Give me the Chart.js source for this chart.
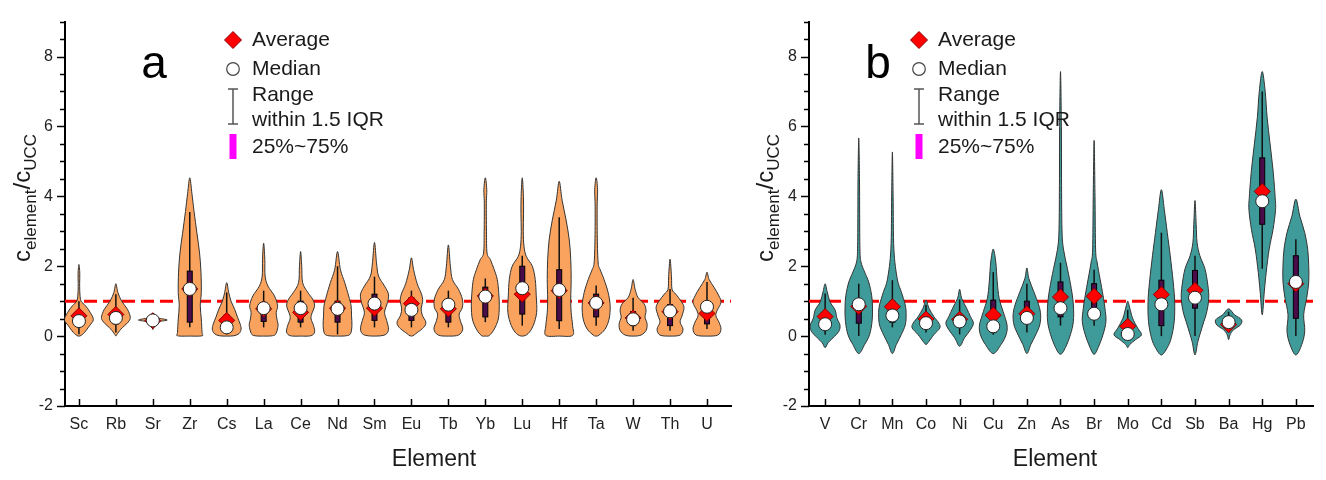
<!DOCTYPE html>
<html><head><meta charset="utf-8">
<script src="https://cdn.jsdelivr.net/npm/chart.js@4.4.1/dist/chart.umd.min.js"></script>
<style>
html,body{margin:0;padding:0;background:#fff;}
#wrap{position:relative;width:1326px;height:480px;overflow:hidden;}
canvas{position:absolute;top:0;}
</style></head><body>
<div id="wrap">
<canvas id="ca" width="740" height="480" style="left:0px"></canvas>
<canvas id="cb" width="586" height="480" style="left:740px"></canvas>
</div>
<script>
// ---------------- DATA ----------------
const yTickValues = [-2, 0, 2, 4, 6, 8];
const referenceLevel = 1;

// Panel a
const elementsA = ['Sc','Rb','Sr','Zr','Cs','La','Ce','Nd','Sm','Eu','Tb','Yb','Lu','Hf','Ta','W','Th','U'];
const meanA   = [0.58,0.62,0.44,1.35,0.45,0.78,0.68,0.80,0.80,0.93,0.78,1.15,1.20,1.30,0.95,0.52,0.70,0.65];
const medianA = [0.43,0.52,0.45,1.35,0.25,0.80,0.80,0.78,0.93,0.75,0.90,1.13,1.37,1.32,0.95,0.48,0.71,0.84];
const q1A     = [0.30,0.35,0.40,0.40,0.15,0.42,0.40,0.40,0.45,0.45,0.40,0.55,0.63,0.44,0.55,0.30,0.30,0.35];
const q3A     = [0.62,0.75,0.50,1.86,0.60,0.95,1.00,1.00,1.20,1.10,1.00,1.40,2.00,1.90,1.20,0.70,0.90,0.95];
const whiskLoA= [0.05,0.10,0.25,0.25,0.05,0.25,0.25,0.05,0.25,0.25,0.25,0.40,0.30,0.20,0.30,0.15,0.15,0.20];
const whiskHiA= [1.00,1.20,0.62,3.55,1.25,1.30,1.30,2.00,1.70,1.30,1.30,1.65,2.30,3.40,1.45,1.10,1.35,1.55];
// density profiles: [value, relative density] from top to bottom
const densityA = [
 [[2.05,0],[1.8,0.06],[1.5,0.05],[1.2,0.07],[1.0,0.15],[0.87,0.45],[0.68,0.78],[0.47,1.0],[0.3,0.74],[0.11,0.4],[0.02,0.15],[0,0]],
 [[1.5,0],[1.25,0.14],[1.0,0.4],[0.77,0.8],[0.54,1.0],[0.4,0.85],[0.2,0.35],[0.05,0.08],[0,0]],
 [[0.65,0],[0.58,0.12],[0.52,0.35],[0.46,1.0],[0.41,0.35],[0.33,0.1],[0.19,0]],
 [[4.53,0],[4.08,0.15],[3.56,0.3],[2.94,0.5],[2.38,0.68],[1.81,0.78],[1.25,0.8],[0.87,0.73],[0.49,0.8],[0.11,0.85],[0.01,0.85],[0,0]],
 [[1.53,0],[1.25,0.14],[1.0,0.3],[0.77,0.55],[0.54,0.75],[0.35,0.93],[0.2,1.0],[0.07,0.85],[0.01,0.5],[0,0]],
 [[2.66,0],[2.2,0.08],[1.72,0.1],[1.43,0.3],[1.15,0.75],[0.87,0.97],[0.68,0.87],[0.49,0.92],[0.3,1.0],[0.07,0.85],[0.01,0.6],[0,0]],
 [[2.42,0],[2.0,0.08],[1.53,0.14],[1.25,0.5],[1.06,0.83],[0.87,0.97],[0.63,0.77],[0.49,0.73],[0.3,0.9],[0.11,0.97],[0.01,0.7],[0,0]],
 [[2.42,0],[1.9,0.2],[1.53,0.5],[1.15,0.77],[0.87,0.94],[0.58,0.97],[0.3,1.0],[0.07,0.9],[0.01,0.6],[0,0]],
 [[2.68,0],[2.1,0.14],[1.72,0.28],[1.43,0.7],[1.2,0.97],[0.96,0.9],[0.68,0.7],[0.44,0.85],[0.2,0.97],[0.04,0.75],[0,0]],
 [[2.24,0],[1.9,0.15],[1.5,0.4],[1.2,0.7],[1.0,0.78],[0.8,0.68],[0.6,0.75],[0.4,1.0],[0.25,0.85],[0.1,0.4],[0,0]],
 [[2.61,0],[2.0,0.14],[1.62,0.28],[1.34,0.7],[1.06,0.97],[0.82,0.97],[0.63,0.75],[0.44,0.83],[0.2,1.0],[0.03,0.7],[0,0]],
 [[4.53,0],[4.2,0.1],[3.8,0.07],[3.0,0.08],[2.38,0.12],[2.19,0.35],[1.9,0.62],[1.62,0.83],[1.25,0.93],[0.87,0.97],[0.49,0.9],[0.2,0.62],[0.02,0.28],[0,0]],
 [[4.53,0],[4.0,0.08],[3.5,0.09],[3.0,0.07],[2.57,0.12],[2.28,0.28],[2.0,0.7],[1.62,0.9],[1.15,0.97],[0.68,1.0],[0.3,0.76],[0.07,0.4],[0,0]],
 [[4.43,0],[3.89,0.2],[3.32,0.48],[2.75,0.7],[2.19,0.8],[1.62,0.83],[1.06,0.8],[0.68,0.83],[0.3,0.93],[0.02,0.93],[0,0]],
 [[4.53,0],[4.2,0.1],[3.7,0.07],[2.8,0.08],[2.1,0.14],[1.9,0.28],[1.62,0.55],[1.25,0.83],[0.87,0.97],[0.49,0.9],[0.2,0.62],[0.03,0.2],[0,0]],
 [[1.62,0],[1.34,0.14],[1.1,0.35],[0.92,0.77],[0.73,0.9],[0.54,0.83],[0.35,0.97],[0.16,0.9],[0.03,0.55],[0,0]],
 [[2.2,0],[1.7,0.1],[1.34,0.14],[1.2,0.4],[1.0,0.77],[0.82,0.97],[0.58,0.83],[0.4,0.7],[0.2,0.9],[0.03,0.7],[0,0]],
 [[1.83,0],[1.62,0.15],[1.39,0.5],[1.15,0.83],[0.96,0.97],[0.73,0.7],[0.58,0.62],[0.4,0.83],[0.2,0.97],[0.03,0.75],[0,0]]
];

// Panel b
const elementsB = ['V','Cr','Mn','Co','Ni','Cu','Zn','As','Br','Mo','Cd','Sb','Ba','Hg','Pb'];
const meanB   = [0.56,0.85,0.84,0.49,0.48,0.60,0.64,1.12,1.14,0.28,1.19,1.31,0.33,4.14,1.50];
const medianB = [0.34,0.91,0.59,0.37,0.42,0.28,0.52,0.80,0.64,0.06,0.91,1.10,0.40,3.86,1.55];
const q1B     = [0.20,0.37,0.40,0.25,0.30,0.10,0.40,0.55,0.50,0.00,0.30,0.80,0.30,3.20,0.51];
const q3B     = [0.60,1.00,1.00,0.50,0.55,1.03,1.00,1.55,1.50,0.30,1.60,1.88,0.50,5.10,2.30];
const whiskLoB= [0.04,0.00,0.25,0.10,0.05,0.04,0.10,0.30,0.30,-0.10,0.00,0.00,0.10,1.93,0.00];
const whiskHiB= [1.22,1.50,1.60,0.90,1.05,1.83,1.50,2.10,1.90,0.75,2.96,2.30,0.70,7.00,2.77];
const densityB = [
 [[1.5,0],[1.27,0.14],[0.98,0.33],[0.75,0.67],[0.51,0.8],[0.32,1.0],[0.14,0.93],[-0.05,0.53],[-0.19,0.2],[-0.33,0]],
 [[5.67,0],[4.5,0.05],[3.5,0.06],[2.5,0.08],[2.12,0.15],[1.83,0.4],[1.55,0.67],[1.17,0.87],[0.8,0.93],[0.42,0.9],[0.04,0.73],[-0.24,0.4],[-0.5,0]],
 [[5.27,0],[4.0,0.05],[2.49,0.1],[1.64,0.33],[1.27,0.6],[0.89,0.87],[0.61,0.93],[0.32,0.87],[0.04,0.6],[-0.24,0.27],[-0.5,0]],
 [[1.03,0],[0.8,0.2],[0.56,0.53],[0.37,0.87],[0.23,0.93],[0.04,0.53],[-0.15,0.2],[-0.24,0]],
 [[1.34,0],[1.08,0.14],[0.8,0.47],[0.56,0.73],[0.37,0.93],[0.18,0.73],[-0.05,0.33],[-0.29,0]],
 [[2.49,0],[2.12,0.17],[1.55,0.27],[1.08,0.4],[0.7,0.67],[0.32,0.93],[0.04,0.87],[-0.24,0.53],[-0.5,0]],
 [[1.95,0],[1.64,0.14],[1.27,0.47],[0.89,0.8],[0.61,0.93],[0.32,0.87],[0.04,0.6],[-0.24,0.27],[-0.5,0]],
 [[7.57,0],[6.0,0.06],[4.5,0.07],[3.06,0.1],[2.49,0.2],[1.93,0.47],[1.36,0.73],[0.89,0.87],[0.42,0.87],[0.04,0.67],[-0.33,0.33],[-0.52,0]],
 [[5.6,0],[4.0,0.06],[2.49,0.1],[2.12,0.2],[1.64,0.4],[1.17,0.6],[0.8,0.73],[0.42,0.8],[0.04,0.6],[-0.33,0.27],[-0.52,0]],
 [[1.0,0],[0.8,0.14],[0.51,0.33],[0.23,0.67],[0.04,0.93],[-0.1,0.53],[-0.24,0.14],[-0.33,0]],
 [[4.19,0],[3.62,0.2],[2.96,0.4],[2.3,0.6],[1.55,0.8],[0.98,0.9],[0.42,0.87],[-0.05,0.67],[-0.33,0.4],[-0.54,0]],
 [[3.88,0],[3.2,0.08],[2.68,0.14],[2.3,0.33],[1.93,0.67],[1.46,0.87],[1.08,0.93],[0.7,0.8],[0.32,0.53],[-0.15,0.2],[-0.54,0]],
 [[0.78,0],[0.61,0.4],[0.47,0.87],[0.32,0.8],[0.18,0.33],[0.04,0.1],[-0.1,0]],
 [[7.57,0],[7.0,0.2],[6.26,0.33],[5.5,0.53],[4.75,0.73],[4.0,0.87],[3.62,0.9],[3.05,0.73],[2.49,0.47],[1.83,0.27],[1.27,0.14],[0.61,0]],
 [[3.92,0],[3.43,0.27],[2.96,0.6],[2.49,0.8],[2.02,0.87],[1.55,0.87],[1.08,0.73],[0.61,0.53],[0.14,0.6],[-0.24,0.4],[-0.54,0]]
];

const legendLabels = ['Average', 'Median', 'Range', 'within 1.5 IQR', '25%~75%'];

// ---------------- RENDERING ----------------
const FONT = '"Liberation Sans", Arial, Helvetica, sans-serif';
const TXT = '#1a1a1a';

function smoothClosed(ctx, pts) {
  const n = pts.length;
  ctx.beginPath();
  ctx.moveTo(pts[0].x, pts[0].y);
  for (let i = 0; i < n; i++) {
    const p0 = pts[(i - 1 + n) % n], p1 = pts[i], p2 = pts[(i + 1) % n], p3 = pts[(i + 2) % n];
    const t = 1 / 6;
    ctx.bezierCurveTo(p1.x + (p2.x - p0.x) * t, p1.y + (p2.y - p0.y) * t,
                      p2.x - (p3.x - p1.x) * t, p2.y - (p3.y - p1.y) * t, p2.x, p2.y);
  }
  ctx.closePath();
}

function violinPlugin(P) {
  return {
    id: 'violins',
    beforeDatasetDraw(chart, args) {
      if (args.index !== 1) return;
      const ctx = chart.ctx, xs = chart.scales.x, ys = chart.scales.y;
      const unit = xs.getPixelForValue(1) - xs.getPixelForValue(0);
      const hw = P.halfWidth * unit;
      ctx.save();
      P.density.forEach((shape, i) => {
        const cx = xs.getPixelForValue(i + 1);
        const right = shape.map(([v, d]) => ({ x: cx + d * hw, y: ys.getPixelForValue(v) }));
        const left = shape.slice().reverse().map(([v, d]) => ({ x: cx - d * hw, y: ys.getPixelForValue(v) }));
        const pts = right.concat(left.slice(1, -1));
        smoothClosed(ctx, pts);
        ctx.fillStyle = P.fill;
        ctx.fill();
        ctx.lineWidth = 1;
        ctx.strokeStyle = '#333';
        ctx.stroke();
        // whisker
        ctx.beginPath();
        ctx.moveTo(cx, ys.getPixelForValue(P.whiskHi[i]));
        ctx.lineTo(cx, ys.getPixelForValue(P.whiskLo[i]));
        ctx.lineWidth = 1.5;
        ctx.strokeStyle = '#111';
        ctx.stroke();
        // IQR bar
        const yt = ys.getPixelForValue(P.q3[i]), yb = ys.getPixelForValue(P.q1[i]);
        ctx.fillStyle = '#4a0c4a';
        ctx.fillRect(cx - 2.5, yt, 5, yb - yt);
        ctx.lineWidth = 1;
        ctx.strokeStyle = '#000';
        ctx.strokeRect(cx - 2.5, yt, 5, yb - yt);
      });
      ctx.restore();
    }
  };
}

function decorPlugin(P) {
  return {
    id: 'decor',
    afterDraw(chart) {
      const ctx = chart.ctx, xs = chart.scales.x, ys = chart.scales.y;
      const a = chart.chartArea;
      const ox = P.offsetX;
      ctx.save();
      ctx.strokeStyle = '#000';
      ctx.lineWidth = 1.5;
      // y ticks (major every 2, minor every 0.5), outward
      for (let k = -4; k <= 18; k++) {
        const v = k / 2;
        const y = Math.round(ys.getPixelForValue(v)) + 0.5;
        const len = (v % 2 === 0) ? 8 : 5;
        ctx.beginPath(); ctx.moveTo(a.left - len, y); ctx.lineTo(a.left, y); ctx.stroke();
      }
      // x ticks, inward
      P.names.forEach((_, i) => {
        const x = Math.round(xs.getPixelForValue(i + 1)) + 0.5;
        ctx.beginPath(); ctx.moveTo(x, a.bottom); ctx.lineTo(x, a.bottom - 7); ctx.stroke();
      });
      // panel letter
      ctx.fillStyle = '#000';
      ctx.font = '46px ' + FONT;
      ctx.textAlign = 'center'; ctx.textBaseline = 'alphabetic';
      ctx.fillText(P.letter, P.letterX - ox, 78);
      // x title
      ctx.font = '23px ' + FONT;
      ctx.fillStyle = TXT;
      ctx.textBaseline = 'middle';
      ctx.fillText('Element', P.xTitleX - ox, 460);
      // y title with subscripts (rotated)
      ctx.save();
      const big = '24px ' + FONT, small = '17px ' + FONT;
      const parts = [['c', big, 0], ['element', small, 6], ['/', big, 0], ['c', big, 0], ['UCC', small, 6]];
      let total = 0;
      parts.forEach(p => { ctx.font = p[1]; total += ctx.measureText(p[0]).width; });
      ctx.translate(P.yTitleX - ox, 198);
      ctx.rotate(-Math.PI / 2);
      let cur = -total / 2;
      ctx.textAlign = 'left'; ctx.textBaseline = 'alphabetic';
      parts.forEach(p => { ctx.font = p[1]; ctx.fillText(p[0], cur, p[2]); cur += ctx.measureText(p[0]).width; });
      ctx.restore();
      // legend
      const sx = P.legendX - ox, tx = sx + 19;
      // diamond
      ctx.beginPath();
      ctx.moveTo(sx, 40 - 8.5); ctx.lineTo(sx + 8.5, 40); ctx.lineTo(sx, 40 + 8.5); ctx.lineTo(sx - 8.5, 40); ctx.closePath();
      ctx.fillStyle = '#ff0000'; ctx.fill(); ctx.lineWidth = 1; ctx.strokeStyle = '#8a0000'; ctx.stroke();
      // circle
      ctx.beginPath(); ctx.arc(sx, 69, 6.3, 0, Math.PI * 2);
      ctx.fillStyle = '#fff'; ctx.fill(); ctx.strokeStyle = '#444'; ctx.lineWidth = 1.2; ctx.stroke();
      // whisker symbol
      ctx.strokeStyle = '#555'; ctx.lineWidth = 1.5;
      ctx.beginPath();
      ctx.moveTo(sx, 89); ctx.lineTo(sx, 124);
      ctx.moveTo(sx - 5, 89); ctx.lineTo(sx + 5, 89);
      ctx.moveTo(sx - 5, 124); ctx.lineTo(sx + 5, 124);
      ctx.stroke();
      // magenta bar
      ctx.fillStyle = '#ff00ff';
      ctx.fillRect(sx - 3.5, 134, 7, 25);
      // texts
      ctx.fillStyle = TXT;
      ctx.font = '21px ' + FONT;
      ctx.textAlign = 'left'; ctx.textBaseline = 'middle';
      const rows = [40, 69, 95, 120, 147];
      legendLabels.forEach((t, i) => ctx.fillText(t, tx, rows[i]));
      ctx.restore();
    }
  };
}

function makePanel(id, P) {
  const n = P.names.length;
  return new Chart(document.getElementById(id), {
    type: 'scatter',
    data: {
      datasets: [
        { type: 'line', data: [{ x: P.xmin, y: referenceLevel }, { x: P.xmax, y: referenceLevel }],
          borderColor: '#ff0000', borderWidth: 3, borderDash: [13, 6], pointRadius: 0, order: 3 },
        { label: 'Average', data: P.mean.map((v, i) => ({ x: i + 1, y: v })), pointStyle: 'rectRot',
          pointRadius: 8, backgroundColor: '#ff0000', borderColor: '#8a0000', borderWidth: 1, order: 2 },
        { label: 'Median', data: P.median.map((v, i) => ({ x: i + 1, y: v })), pointStyle: 'circle',
          pointRadius: 6.5, backgroundColor: '#ffffff', borderColor: '#222', borderWidth: 1, order: 1 }
      ]
    },
    options: {
      responsive: false, animation: false, events: [],
      layout: { padding: { left: P.padL, right: P.padR, top: 16, bottom: 0 } },
      plugins: { legend: { display: false }, tooltip: { enabled: false } },
      scales: {
        x: {
          type: 'linear', min: P.xmin, max: P.xmax,
          afterBuildTicks: s => { s.ticks = P.names.map((_, i) => ({ value: i + 1 })); },
          afterFit: s => { s.height = 74; },
          grid: { display: false, drawTicks: false },
          border: { display: true, color: '#000', width: 2 },
          ticks: { padding: 9, autoSkip: false, maxRotation: 0, color: '#222',
                   font: { family: FONT, size: 16 },
                   callback: v => P.names[Math.round(v) - 1] }
        },
        y: {
          min: -2, max: 9,
          afterBuildTicks: s => { s.ticks = yTickValues.map(v => ({ value: v })); },
          afterFit: s => { s.width = P.yW; },
          grid: { display: false, drawTicks: false },
          border: { display: true, color: '#000', width: 2 },
          ticks: { padding: 12, color: '#222', font: { family: FONT, size: 16 } }
        }
      }
    },
    plugins: [violinPlugin(P), decorPlugin(P)]
  });
}

makePanel('ca', {
  names: elementsA, mean: meanA, median: medianA, q1: q1A, q3: q3A,
  whiskLo: whiskLoA, whiskHi: whiskHiA, density: densityA,
  xmin: 0.623, xmax: 18.65, padL: 0, yW: 65, padR: 6, offsetX: 0,
  halfWidth: 0.39, fill: '#F9A35E',
  letter: 'a', letterX: 154, xTitleX: 434, yTitleX: 30, legendX: 233
});
makePanel('cb', {
  names: elementsB, mean: meanB, median: medianB, q1: q1B, q3: q3B,
  whiskLo: whiskLoB, whiskHi: whiskHiB, density: densityB,
  xmin: 0.52, xmax: 15.51, padL: 0, yW: 69, padR: 13, offsetX: 740,
  halfWidth: 0.44, fill: '#3F9B9A',
  letter: 'b', letterX: 878, xTitleX: 1055, yTitleX: 773, legendX: 919
});
</script>
</body></html>
